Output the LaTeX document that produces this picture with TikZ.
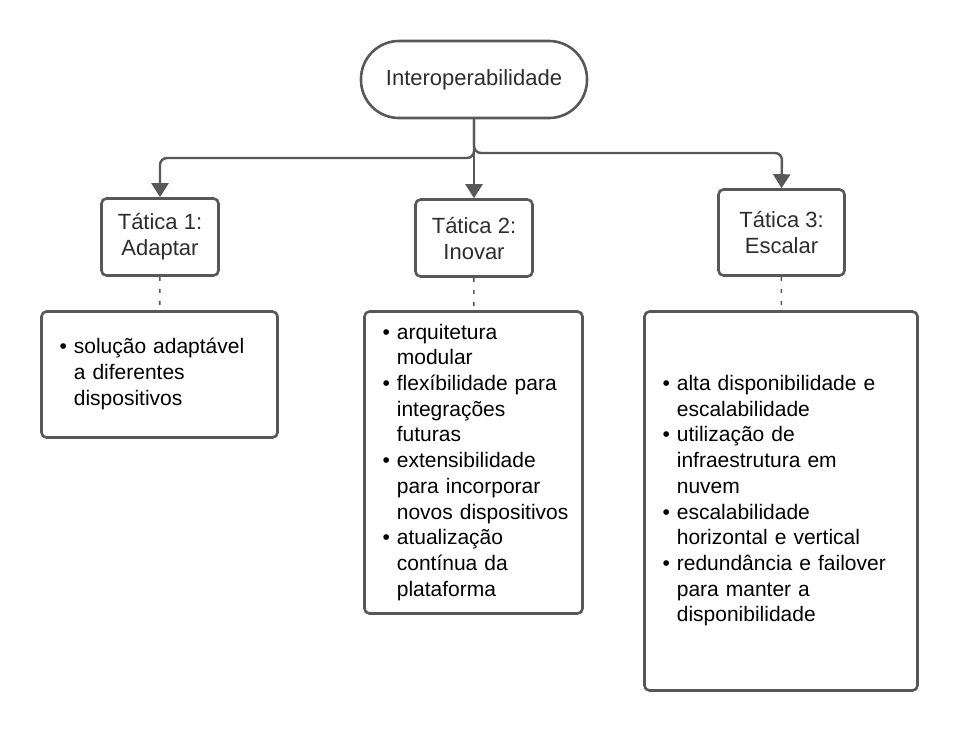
\documentclass[tikz,border=0pt]{standalone}
\usepackage{fontspec}
\setmainfont{Liberation Sans}
\usetikzlibrary{arrows.meta}
\definecolor{linegray}{RGB}{88,88,88}
\definecolor{textgray}{RGB}{45,45,45}

\begin{document}
\begin{tikzpicture}[x=1pt,y=-1pt]
            \useasboundingbox[fill=white] (0,0) rectangle (960,732);
            \begin{scope}[every node/.style={draw=linegray,line width=2.6pt,rounded corners=5pt,text=textgray,font=\fontsize{22}{26}\selectfont}]
                \node[rounded corners=38pt, minimum width=226pt, minimum height=77pt] (root) at (474,79.5) {Interoperabilidade};

                \node[align=center, minimum width=117pt, minimum height=77pt] (t1) at (160,237) {Tática 1:\\Adaptar};
                \node[align=center, minimum width=117pt, minimum height=77pt] (t2) at (474,238) {Tática 2:\\Inovar};
                \node[align=center, minimum width=126pt, minimum height=86pt] (t3) at (781.5,232.5) {Tática 3:\\Escalar};
            \end{scope}
            \begin{scope}[every node/.style={draw=linegray,line width=2.6pt,rounded corners=5pt,text=black,align=left,inner xsep=18pt,font=\fontsize{21}{25.7}\selectfont}]
                \node[minimum width=236pt, minimum height=126pt, text width=200pt] (l1) at (159.5,374.5) {\noindent\begin{tabular}{@{}l@{\hspace{7pt}}l@{}}
                    \textbullet & solução adaptável\\
                    & a diferentes\\
                    & dispositivos
                \end{tabular}};
                \node[minimum width=218pt, minimum height=302pt, text width=182pt] (l2) at (473.5,462.5) {\noindent\begin{tabular}{@{}l@{\hspace{7pt}}l@{}}
                    \textbullet & arquitetura\\
                    & modular\\
                    \textbullet & flexíbilidade para\\
                    & integrações\\
                    & futuras\\
                    \textbullet & extensibilidade\\
                    & para incorporar\\
                    & novos dispositivos\\
                    \textbullet & atualização\\
                    & contínua da\\
                    & plataforma
                \end{tabular}};
                \node[minimum width=273pt, minimum height=379pt, text width=237pt] (l3) at (781,501) {\noindent\begin{tabular}{@{}l@{\hspace{7pt}}l@{}}
                    \textbullet & alta disponibilidade e\\
                    & escalabilidade\\
                    \textbullet & utilização de\\
                    & infraestrutura em\\
                    & nuvem\\
                    \textbullet & escalabilidade\\
                    & horizontal e vertical\\
                    \textbullet & redundância e failover\\
                    & para manter a\\
                    & disponibilidade
                \end{tabular}};
            \end{scope}
            \coordinate (s1) at (160,158);
            \coordinate (s3) at (782,153);
            \begin{scope}[every edge/.style={draw=linegray,line width=2.4pt}]
                \draw[draw=linegray, line width=2.4pt, rounded corners=7pt, -{Triangle[length=14pt,width=17pt]}] (root.south) |- (s1) -- (t1.north);
                \draw[draw=linegray, line width=2.4pt, rounded corners=7pt, -{Triangle[length=14pt,width=17pt]}] (root.south) |- (s3) -- (t3.north);
                \path [-{Triangle[length=14pt,width=17pt]}] (root) edge node {} (t2);

                \path [dash pattern=on 4pt off 8pt] (t1) edge[line width=1.6pt] node {} (l1);
                \path [dash pattern=on 4pt off 8pt] (t2) edge[line width=1.6pt] node {} (l2);
                \path [dash pattern=on 4pt off 8pt] (t3) edge[line width=1.6pt] node {} (l3);
            \end{scope}
        \end{tikzpicture}
\end{document}
